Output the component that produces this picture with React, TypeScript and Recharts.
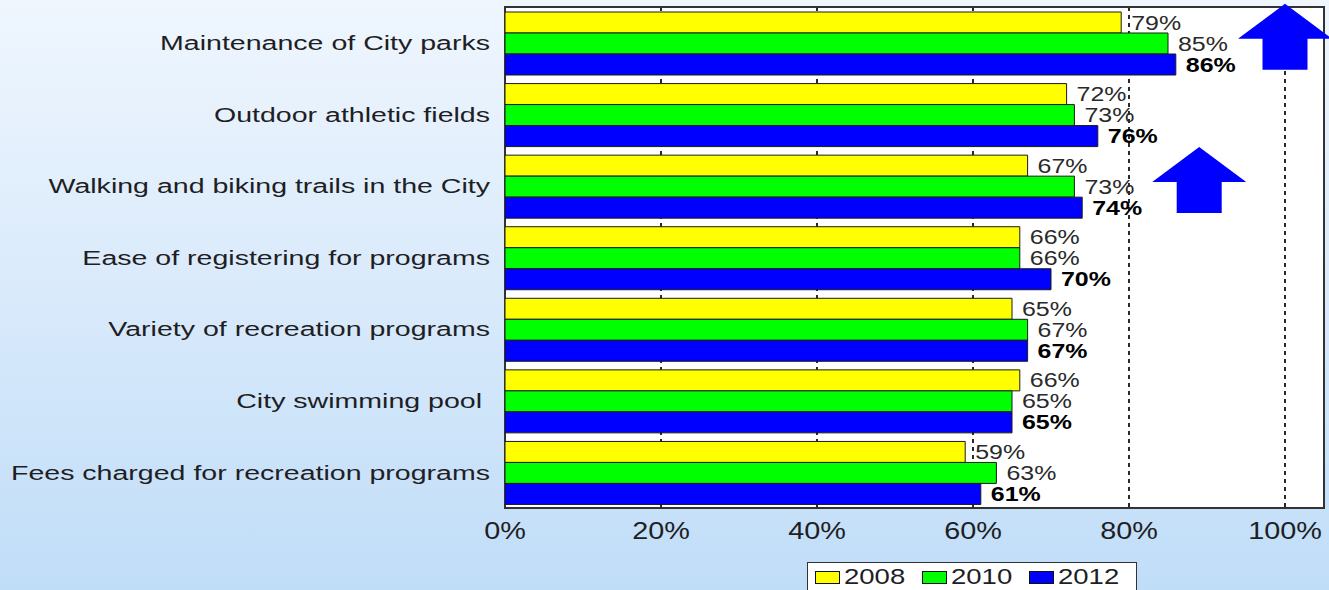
import React from "react";
import {
  BarChart,
  Bar,
  XAxis,
  YAxis,
  CartesianGrid,
  LabelList,
  Legend,
  ReferenceArea,
  ReferenceDot,
} from "recharts";

const categories = [
  "Maintenance of City parks",
  "Outdoor athletic fields",
  "Walking and biking trails in the City",
  "Ease of registering for programs",
  "Variety of recreation programs",
  "City swimming pool ",
  "Fees charged for recreation programs",
];
const values2008 = [79, 72, 67, 66, 65, 66, 59];
const values2010 = [85, 73, 73, 66, 67, 65, 63];
const values2012 = [86, 76, 74, 70, 67, 65, 61];
const xTicks = [0, 20, 40, 60, 80, 100];
const seriesNames = ["2008", "2010", "2012"];
const seriesColors = ["#ffff00", "#00ff00", "#0000ff"];
const arrowMarks = [
  { x: 100, category: "Maintenance of City parks" },
  { x: 89, category: "Walking and biking trails in the City" },
];

const data = categories.map((name, i) => ({
  name,
  y2008: values2008[i],
  y2010: values2010[i],
  y2012: values2012[i],
}));

const FONT = '"Liberation Sans", Arial, Helvetica, sans-serif';
const TEXT = "#1e1e24";

const YTick = (props: any) => {
  const { x, y, payload } = props;
  return (
    <g transform={`translate(${x},${y}) scale(1.36,1)`}>
      <text
        x={0}
        y={0}
        dy="0.35em"
        textAnchor="end"
        fontSize={21}
        fill={TEXT}
        fontFamily={FONT}
        style={{ whiteSpace: "pre" }}
      >
        {payload.value}
      </text>
    </g>
  );
};

const XTick = (props: any) => {
  const { x, y, payload } = props;
  return (
    <g transform={`translate(${x},${y + 31}) scale(1.2,1)`}>
      <text x={0} y={0} textAnchor="middle" fontSize={24} fill={TEXT} fontFamily={FONT}>
        {payload.value}%
      </text>
    </g>
  );
};

const makeValueLabel = (bold: boolean) => (props: any) => {
  const { x, y, width, height, value } = props;
  const tx = x + width + 10;
  const ty = y + height / 2;
  return (
    <g transform={`translate(${tx},${ty}) scale(1.28,1)`}>
      <text
        x={0}
        y={0}
        dy="0.36em"
        textAnchor="start"
        fontSize={19.5}
        fontWeight={bold ? 700 : 400}
        fill={bold ? "#000" : "#2a2a2a"}
        fontFamily={FONT}
      >
        {value}%
      </text>
    </g>
  );
};

const Arrow = (props: any) => {
  const { cx, cy } = props;
  if (cx == null || cy == null) return null;
  const tip = cy - 39;
  const base = cy - 4;
  const bottom = cy + 27;
  const hw = 47;
  const sw = 22.5;
  const d = `M${cx},${tip} L${cx + hw},${base} L${cx + sw},${base} L${cx + sw},${bottom} L${cx - sw},${bottom} L${cx - sw},${base} L${cx - hw},${base} Z`;
  return <path d={d} fill="#0000ff" stroke="none" />;
};

const LegendBox = () => (
  <div
    style={{
      position: "relative",
      width: 330,
      height: 34,
      background: "#fff",
      border: "1.5px solid #333",
      boxSizing: "border-box",
      fontFamily: FONT,
    }}
  >
    {seriesNames.map((name, i) => (
      <div key={name} style={{ position: "absolute", left: 7 + i * 107, top: 8, height: 14 }}>
        <div
          style={{
            position: "absolute",
            left: 0,
            top: 0,
            width: 25,
            height: 13,
            background: seriesColors[i],
            border: "1.5px solid #111",
            boxSizing: "border-box",
          }}
        />
        <span
          style={{
            position: "absolute",
            left: 29,
            top: -7,
            fontSize: 22,
            lineHeight: "26px",
            color: TEXT,
            transform: "scaleX(1.25)",
            transformOrigin: "left center",
            whiteSpace: "nowrap",
          }}
        >
          {name}
        </span>
      </div>
    ))}
  </div>
);

export default function App() {
  return (
    <div
      style={{
        position: "fixed",
        left: 0,
        top: 0,
        width: 1329,
        height: 590,
        overflow: "hidden",
        background: "linear-gradient(to bottom, #eff6fe 0%, #d9eafb 50%, #c0ddf8 100%)",
      }}
    >
      <BarChart
        width={1329}
        height={590}
        data={data}
        layout="vertical"
        margin={{ top: 7, right: 5, bottom: 0, left: 0 }}
        barCategoryGap="7%"
        barGap={0}
      >
        <CartesianGrid
          horizontal={false}
          vertical={true}
          fill="#ffffff"
          stroke="#2a2a2a"
          strokeWidth={2}
          strokeDasharray="4 4"
        />
        <XAxis
          type="number"
          domain={[0, 105]}
          ticks={xTicks}
          allowDataOverflow
          axisLine={false}
          tickLine={false}
          tickSize={0}
          tickMargin={0}
          height={82}
          tick={<XTick />}
          interval={0}
        />
        <YAxis
          type="category"
          dataKey="name"
          width={505}
          axisLine={false}
          tickLine={false}
          tickSize={0}
          tickMargin={15}
          tick={<YTick />}
          interval={0}
        />
        <Legend
          layout="horizontal"
          verticalAlign="middle"
          align="center"
          content={<LegendBox />}
          wrapperStyle={{ left: 807, top: 562, width: 330, height: 34 }}
        />
        <Bar dataKey="y2008" name="2008" fill={seriesColors[0]} stroke="#1a1a1a" strokeWidth={1} isAnimationActive={false}>
          <LabelList dataKey="y2008" content={makeValueLabel(false)} />
        </Bar>
        <Bar dataKey="y2010" name="2010" fill={seriesColors[1]} stroke="#1a1a1a" strokeWidth={1} isAnimationActive={false}>
          <LabelList dataKey="y2010" content={makeValueLabel(false)} />
        </Bar>
        <Bar dataKey="y2012" name="2012" fill={seriesColors[2]} stroke="#1a1a1a" strokeWidth={1} isAnimationActive={false}>
          <LabelList dataKey="y2012" content={makeValueLabel(true)} />
        </Bar>
        <ReferenceArea x1={0} x2={105} fill="none" stroke="#333" strokeWidth={2} ifOverflow="visible" />
        {arrowMarks.map((a) => (
          <ReferenceDot key={a.category} x={a.x} y={a.category} ifOverflow="visible" shape={<Arrow />} />
        ))}
      </BarChart>
    </div>
  );
}
